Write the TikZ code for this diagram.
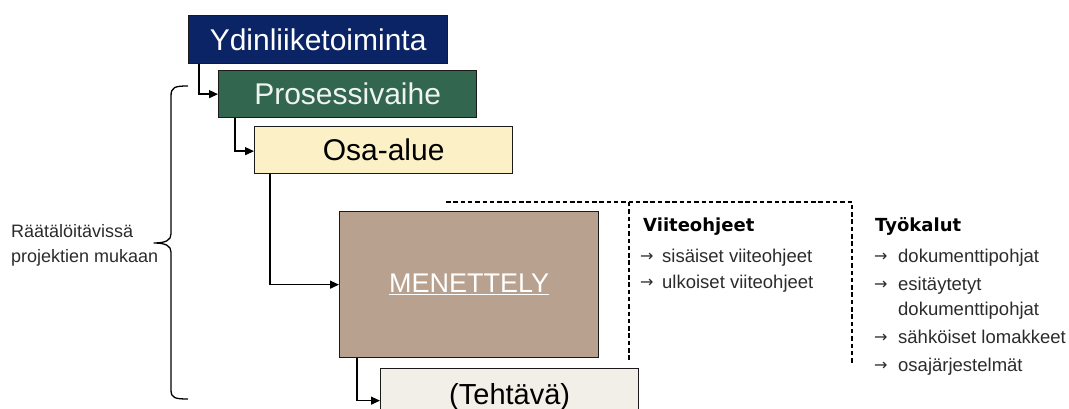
\documentclass[tikz,border=0pt]{standalone}
\usepackage{fontspec}
\setmainfont{Liberation Sans}
\newfontfamily\headfont{DejaVu Sans}
\newfontfamily\symfont{DejaVu Sans}
\usetikzlibrary{arrows.meta}

\definecolor{navy}{HTML}{0B2466}
\definecolor{pine}{HTML}{33664F}
\definecolor{cream}{HTML}{FBF0C6}
\definecolor{taupe}{HTML}{B8A18F}
\definecolor{linen}{HTML}{F2EEE8}
\definecolor{bodytext}{HTML}{2B2B2B}
\definecolor{frame}{HTML}{1A1A1A}

\tikzset{
  box/.style={draw=frame, line width=1.3pt, anchor=north west, inner sep=0pt,
    minimum height=48pt, font=\fontsize{30}{36}\selectfont},
  conn/.style={line width=1.3pt, draw=black, -{Triangle[length=9pt,width=8pt]}},
  dashline/.style={line width=1.4pt, dash pattern=on 4.5pt off 2.8pt},
  head/.style={anchor=base west, inner sep=0pt, font=\headfont\bfseries\fontsize{18}{22}\selectfont},
  item/.style={anchor=base west, inner sep=0pt, text=bodytext, font=\fontsize{18.5}{22}\selectfont},
  bullet/.style={anchor=base west, inner sep=0pt, text=bodytext, font=\symfont\fontsize{16}{18}\selectfont},
}

\begin{document}
\begin{tikzpicture}[x=1pt,y=-1pt]
\useasboundingbox (0,0) rectangle (1069,409);

% level boxes
\node[box, fill=navy, text=white, minimum width=259pt] (ydin) at (188,15) {Ydinliiketoiminta};
\node[box, fill=pine, text=white!92!pine, minimum width=258pt, minimum height=47pt] (proc) at (218,70) {Prosessivaihe};
\node[box, fill=cream, text=black, minimum width=258pt, minimum height=47pt] (osa) at (254,126) {Osa-alue};
\node[box, fill=taupe, text=white, minimum width=259pt, minimum height=146pt,
      font=\fontsize{27}{32}\selectfont] (men) at (339,211) {\underline{MENETTELY}};
\node[box, fill=linen, text=black, minimum width=258pt, minimum height=56pt,
      font=\fontsize{29}{34}\selectfont] (teh) at (380,368) {\raisebox{-2pt}{(Tehtävä)}};

% hierarchy connectors
\draw[conn] ([xshift=11pt]ydin.south west) |- (proc.west);
\draw[conn] ([xshift=17pt]proc.south west) |- ([yshift=-1pt]osa.west);
\draw[conn] ([xshift=16pt]osa.south west) |- (men.west);
\draw[conn] ([xshift=18pt]men.south west) |- ([yshift=-4pt]teh.west);

% dashed frame of the guide column
\coordinate (dstart) at (446,202);
\coordinate (dcorner) at (852,202);
\coordinate (dend) at (852,365);
\coordinate (ltop) at (629,202);
\coordinate (lend) at (629,362);
\draw[dashline] (dstart) -- (dcorner) -- (dend);
\draw[dashline] (ltop) -- (lend);

% guides
\node[head] (vh) at (643,231) {Viiteohjeet};
\node[bullet] (va1) at (640,261) {→};
\node[item] (v1) at (662,262) {sisäiset viiteohjeet};
\node[bullet] (va2) at (640,287) {→};
\node[item] (v2) at (662,288) {ulkoiset viiteohjeet};

% tools
\node[head] (th) at (875,231) {Työkalut};
\node[bullet] (ta1) at (874,261) {→};
\node[item] (t1) at (898,262) {dokumenttipohjat};
\node[bullet] (ta2) at (874,289) {→};
\node[item] (t2) at (898,290) {esitäytetyt};
\node[item] (t2b) at (898,315) {dokumenttipohjat};
\node[bullet] (ta3) at (874,342) {→};
\node[item] (t3) at (898,343) {sähköiset lomakkeet};
\node[bullet] (ta4) at (874,370) {→};
\node[item] (t4) at (898,371) {osajärjestelmät};

% brace and its label
\draw[line width=1.3pt, line join=round]
  (188,86) .. controls (175,86) and (171,87) .. (171,96)
  -- (171,234) .. controls (171,240) and (166,243) .. (154,243)
  .. controls (166,243) and (171,246) .. (171,252)
  -- (171,390) .. controls (171,398) and (175,399) .. (188,399);
\node[anchor=west, inner sep=0pt, align=left, text=bodytext,
      font=\fontsize{18}{25}\selectfont] (lbl) at (11,245)
  {Räätälöitävissä\\projektien mukaan};
\end{tikzpicture}
\end{document}
